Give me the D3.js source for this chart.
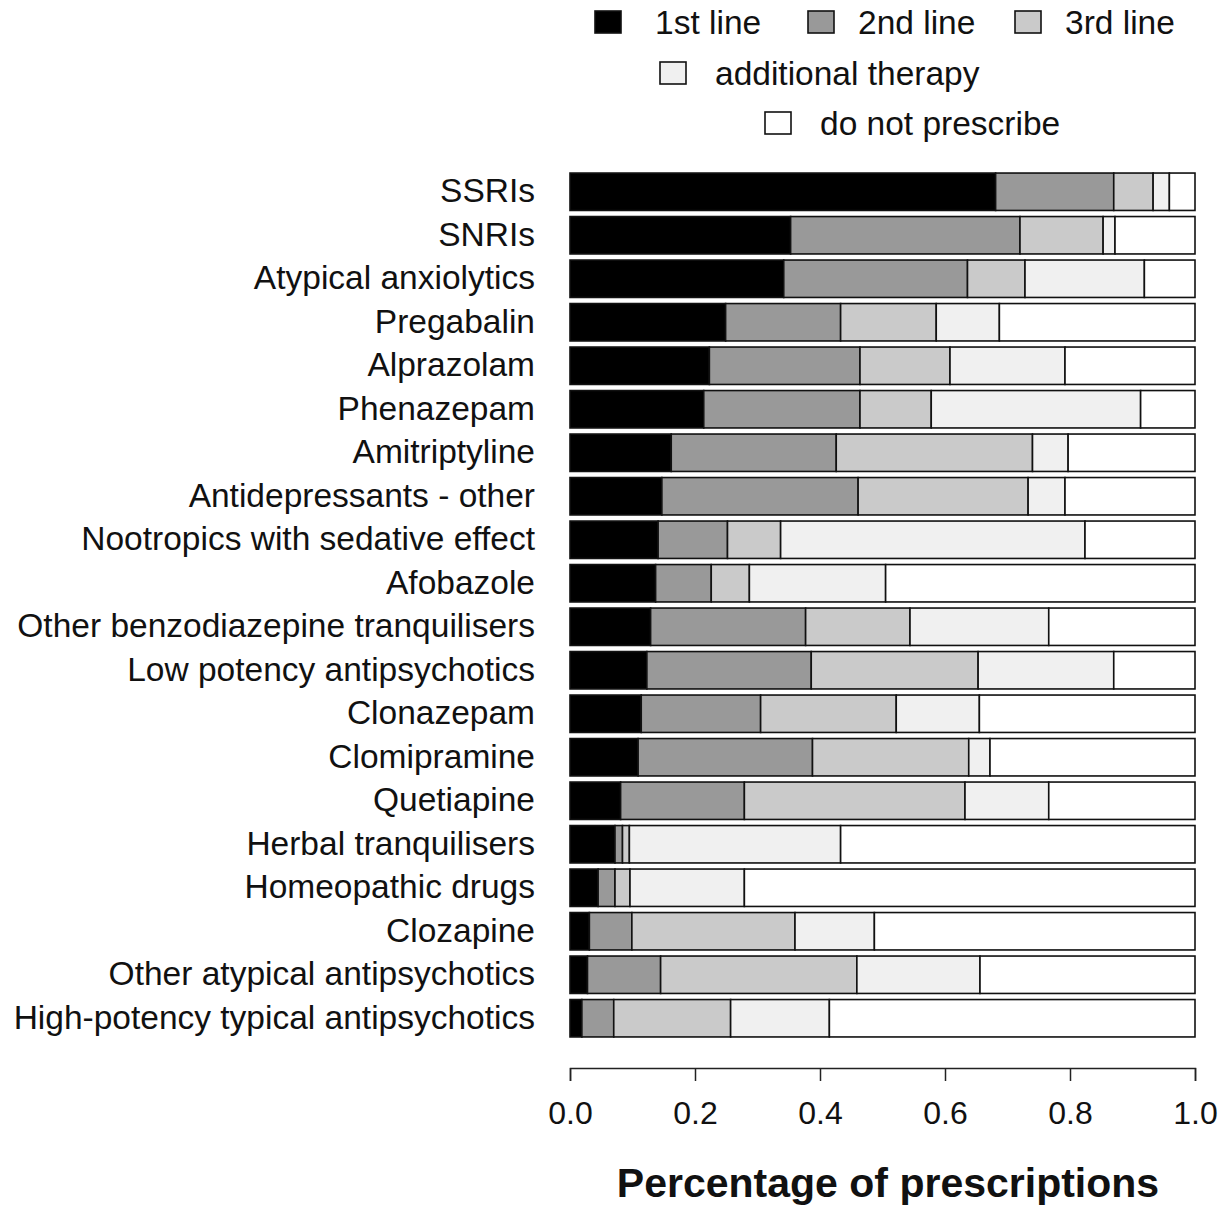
<!DOCTYPE html>
<html><head><meta charset="utf-8">
<script src="https://cdn.jsdelivr.net/npm/d3@7"></script>
<style>body{margin:0;background:#fff}svg{display:block}text{font-family:"Liberation Sans",Arial,sans-serif}</style>
</head><body><svg id="c" width="1225" height="1206"></svg>
<script>
const categories = ["SSRIs","SNRIs","Atypical anxiolytics","Pregabalin","Alprazolam","Phenazepam","Amitriptyline","Antidepressants - other","Nootropics with sedative effect","Afobazole","Other benzodiazepine tranquilisers","Low potency antipsychotics","Clonazepam","Clomipramine","Quetiapine","Herbal tranquilisers","Homeopathic drugs","Clozapine","Other atypical antipsychotics","High-potency typical antipsychotics"];
const seriesNames = ["1st line","2nd line","3rd line","additional therapy","do not prescribe"];
const firstLine  = [0.681,0.353,0.342,0.249,0.223,0.214,0.162,0.147,0.141,0.137,0.129,0.123,0.114,0.109,0.081,0.072,0.045,0.031,0.028,0.019];
const secondLine = [0.189,0.367,0.294,0.184,0.241,0.250,0.264,0.314,0.111,0.089,0.248,0.263,0.191,0.279,0.198,0.012,0.027,0.068,0.117,0.051];
const thirdLine  = [0.063,0.133,0.092,0.153,0.144,0.114,0.314,0.272,0.085,0.061,0.167,0.267,0.217,0.250,0.353,0.011,0.024,0.261,0.314,0.187];
const additional = [0.026,0.019,0.191,0.101,0.184,0.335,0.057,0.059,0.487,0.218,0.222,0.217,0.133,0.034,0.134,0.338,0.183,0.127,0.197,0.158];
const doNot      = [0.041,0.128,0.081,0.313,0.208,0.087,0.203,0.208,0.176,0.495,0.234,0.130,0.345,0.328,0.234,0.567,0.721,0.513,0.344,0.585];
const ticks = [0,0.2,0.4,0.6,0.8,1.0];
const colors = ["#000000","#999999","#cacaca","#f0f0f0","#ffffff"];

const rows = categories.map((c,i)=>({cat:c, v:[firstLine[i],secondLine[i],thirdLine[i],additional[i],doNot[i]]}));
const svg = d3.select("#c");
const x = d3.scaleLinear().domain([0,1]).range([570,1195]);
const y = d3.scaleBand().domain(categories).range([170,1040]).paddingInner(0.14).paddingOuter(0.07);

const segs = [];
rows.forEach(r=>{
  let cum=0;
  r.v.forEach((v,k)=>{ segs.push({cat:r.cat,k,x0:cum,x1:Math.min(1,cum+v)}); cum+=v; });
});
svg.append("g").selectAll("rect").data(segs).join("rect")
  .attr("x",d=>x(d.x0)).attr("width",d=>Math.max(0,x(d.x1)-x(d.x0)))
  .attr("y",d=>y(d.cat)).attr("height",y.bandwidth())
  .attr("fill",d=>colors[d.k]).attr("stroke","#111").attr("stroke-width",1.6);

// left labels
const ya = svg.append("g").attr("transform","translate(570,0)")
  .call(d3.axisLeft(y).tickSize(0).tickPadding(35));
ya.select(".domain").remove();
ya.selectAll("text").attr("font-size",33.5).attr("fill","#111").attr("font-family","'Liberation Sans',Arial,sans-serif");

// bottom axis
const xa = svg.append("g").attr("transform","translate(0,1068)")
  .call(d3.axisBottom(x).tickValues(ticks).tickFormat(d3.format(".1f")).tickSize(13).tickPadding(20));
xa.select(".domain").attr("stroke","#222").attr("stroke-width",1.5);
xa.selectAll(".tick line").attr("stroke","#222").attr("stroke-width",1.5);
xa.selectAll("text").attr("font-size",32).attr("fill","#111").attr("font-family","'Liberation Sans',Arial,sans-serif");

svg.append("text").attr("x",888).attr("y",1197).attr("text-anchor","middle")
  .attr("font-size",41).attr("font-weight","bold").attr("fill","#111").text("Percentage of prescriptions");

// legend
const legendPos = [
  {sx:595, tx:655, y:22},
  {sx:808, tx:858, y:22},
  {sx:1015, tx:1065, y:22},
  {sx:660, tx:715, y:73},
  {sx:765, tx:820, y:123}
];
const lg = svg.append("g");
seriesNames.forEach((n,k)=>{
  const p = legendPos[k];
  lg.append("rect").attr("x",p.sx).attr("y",p.y-11).attr("width",26).attr("height",22)
    .attr("fill",colors[k]).attr("stroke","#111").attr("stroke-width",1.6);
  lg.append("text").attr("x",p.tx).attr("y",p.y).attr("dy","0.35em")
    .attr("font-size",33.5).attr("fill","#111").text(n);
});
</script></body></html>
